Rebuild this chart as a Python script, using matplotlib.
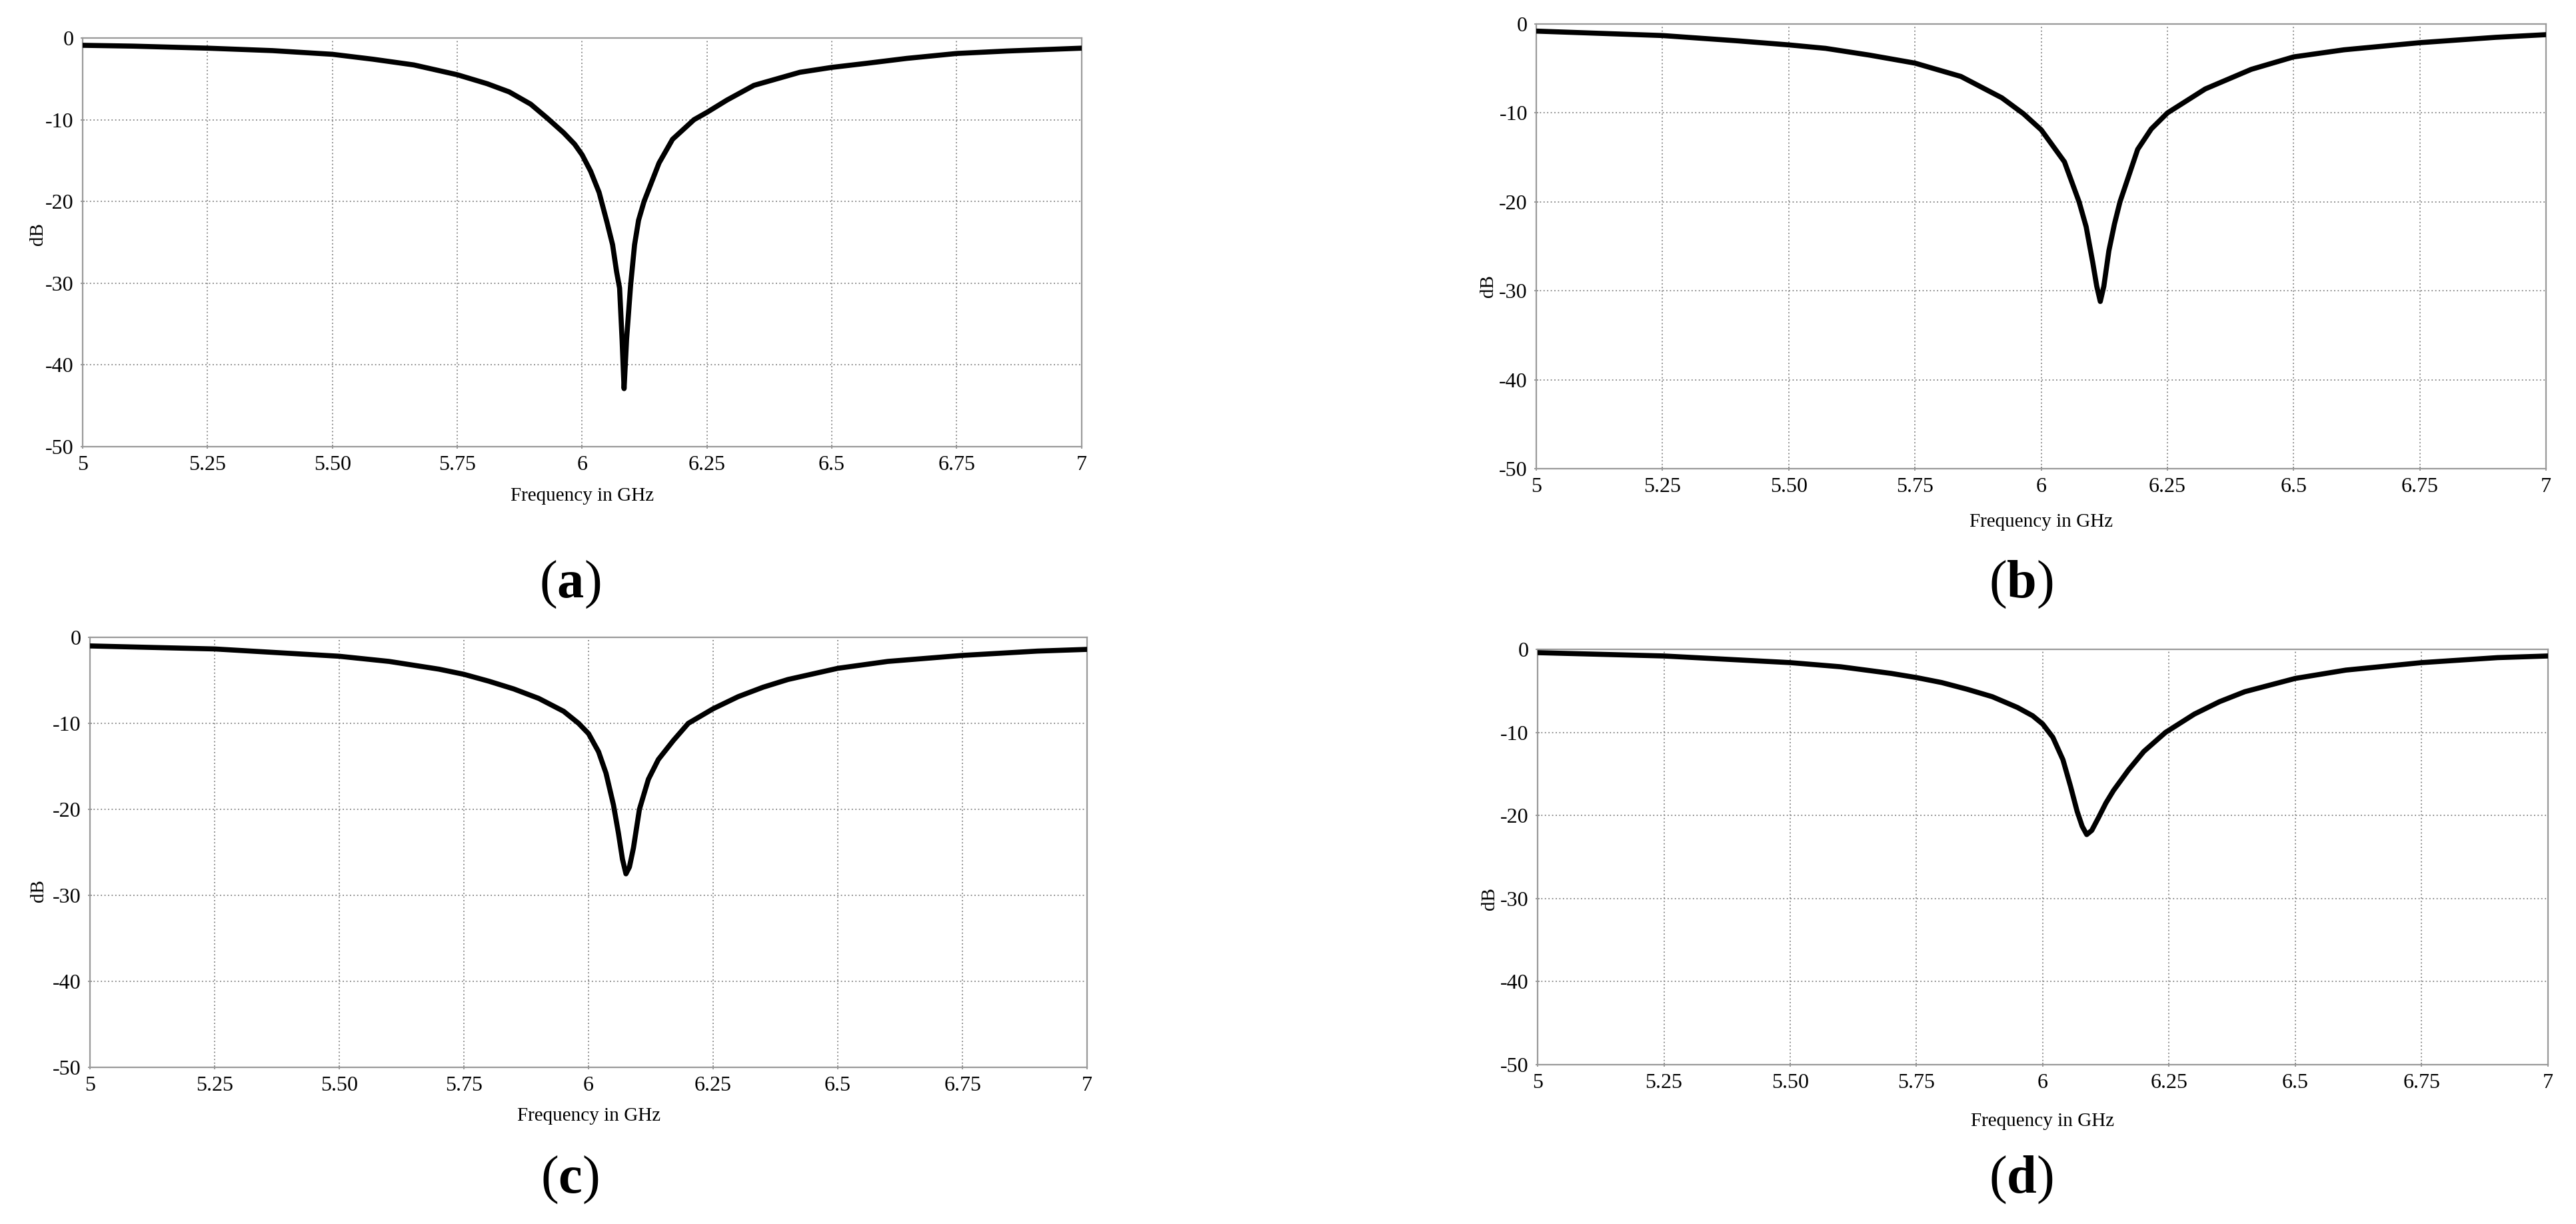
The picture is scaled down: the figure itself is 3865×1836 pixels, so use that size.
import matplotlib
matplotlib.use("Agg")
import matplotlib.pyplot as plt

plt.rcParams['font.family'] = ['Liberation Serif', 'DejaVu Serif']
plt.rcParams['axes.unicode_minus'] = False
plt.rcParams['mathtext.fontset'] = 'custom'
plt.rcParams['mathtext.bf'] = 'Liberation Serif:bold'

# reflection coefficient (dB)
freq_a = [5.0, 5.1, 5.25, 5.38, 5.5, 5.581, 5.663, 5.75, 5.81, 5.854, 5.897, 5.93,
          5.963, 5.985, 6.0, 6.017, 6.034, 6.05, 6.061, 6.069, 6.075, 6.08, 6.084,
          6.089, 6.097, 6.105, 6.113, 6.124, 6.154, 6.181, 6.224, 6.25, 6.29, 6.344,
          6.436, 6.5, 6.57, 6.65, 6.75, 6.85, 7.0]
s11_a = [-0.9, -1.0, -1.25, -1.55, -2.0, -2.6, -3.3, -4.5, -5.6, -6.6, -8.1, -9.8,
         -11.6, -13.0, -14.3, -16.3, -18.9, -22.6, -25.3, -28.6, -30.6, -36.9, -42.9,
         -36.9, -30.3, -25.3, -22.3, -20.0, -15.3, -12.4, -10.0, -9.1, -7.6, -5.8,
         -4.2, -3.6, -3.1, -2.5, -1.9, -1.6, -1.25]

freq_b = [5.0, 5.25, 5.4, 5.5, 5.573, 5.66, 5.75, 5.841, 5.922, 5.965, 6.0, 6.046,
          6.075, 6.089, 6.102, 6.11, 6.117, 6.124, 6.134, 6.145, 6.156, 6.191, 6.218,
          6.25, 6.325, 6.416, 6.5, 6.6, 6.75, 6.9, 7.0]
s11_b = [-0.8, -1.3, -1.9, -2.35, -2.74, -3.5, -4.4, -5.9, -8.3, -10.1, -11.9, -15.5,
         -20.0, -22.8, -26.8, -29.5, -31.2, -29.5, -25.5, -22.5, -20.0, -14.1, -11.8,
         -10.0, -7.3, -5.1, -3.7, -2.9, -2.1, -1.5, -1.2]

freq_c = [5.0, 5.25, 5.5, 5.6, 5.7, 5.75, 5.8, 5.85, 5.9, 5.95, 5.98, 6.0, 6.02,
          6.035, 6.05, 6.06, 6.068, 6.075, 6.082, 6.09, 6.102, 6.12, 6.14, 6.17, 6.2,
          6.25, 6.3, 6.35, 6.4, 6.5, 6.6, 6.75, 6.9, 7.0]
s11_c = [-1.0, -1.35, -2.2, -2.8, -3.7, -4.3, -5.1, -6.0, -7.1, -8.6, -10.0, -11.2,
         -13.3, -15.8, -19.5, -22.8, -25.8, -27.5, -26.7, -24.5, -20.0, -16.5, -14.2,
         -12.0, -10.0, -8.3, -6.9, -5.8, -4.9, -3.6, -2.8, -2.1, -1.6, -1.4]

freq_d = [5.0, 5.25, 5.5, 5.6, 5.7, 5.75, 5.8, 5.85, 5.9, 5.95, 5.98, 6.0, 6.02,
          6.04, 6.055, 6.068, 6.078, 6.087, 6.097, 6.11, 6.125, 6.14, 6.17, 6.2,
          6.243, 6.3, 6.35, 6.4, 6.5, 6.6, 6.75, 6.9, 7.0]
s11_d = [-0.4, -0.8, -1.6, -2.1, -2.9, -3.4, -4.0, -4.8, -5.7, -7.0, -8.0, -9.0,
         -10.6, -13.3, -16.5, -19.5, -21.3, -22.3, -21.8, -20.3, -18.5, -17.0, -14.5,
         -12.3, -10.0, -7.8, -6.3, -5.1, -3.5, -2.5, -1.6, -1.0, -0.8]

x_ticks = [5.0, 5.25, 5.5, 5.75, 6.0, 6.25, 6.5, 6.75, 7.0]
x_ticklabels = ['5', '5.25', '5.50', '5.75', '6', '6.25', '6.5', '6.75', '7']
y_ticks = [0, -10, -20, -30, -40, -50]
y_ticklabels = ['0', '-10', '-20', '-30', '-40', '-50']

panels = [
    # data, axes rect, xlabel y, ylabel (x, y), letter, letter pos
    (freq_a, s11_a, [0.03208, 0.6351, 0.3878, 0.3339], -0.10, (-0.036, 0.52), 'a', (0.2212, 0.5223)),
    (freq_b, s11_b, [0.5964, 0.6171, 0.3920, 0.3633], -0.10, (-0.039, 0.41), 'b', (0.7845, 0.5223)),
    (freq_c, s11_c, [0.03493, 0.1280, 0.3871, 0.3513], -0.093, (-0.043, 0.41), 'c', (0.2212, 0.0359)),
    (freq_d, s11_d, [0.5969, 0.1302, 0.3922, 0.3393], -0.115, (-0.039, 0.40), 'd', (0.7845, 0.0359)),
]

fig = plt.figure(figsize=(38.65, 18.36), dpi=100)

for freq, s11, rect, xl_y, yl_pos, letter, lpos in panels:
    ax = fig.add_axes(rect)
    ax.plot(freq, s11, color='black', lw=5.5, solid_joinstyle='round',
            solid_capstyle='round', zorder=3)
    ax.set_xlim(5, 7)
    ax.set_ylim(-50, 0)
    ax.set_xticks(x_ticks)
    ax.set_xticklabels(x_ticklabels)
    ax.set_yticks(y_ticks)
    ax.set_yticklabels(y_ticklabels)
    ax.grid(True, color='#808080', linestyle=(0, (1, 2)), linewidth=1.3)
    for sp in ax.spines.values():
        sp.set_color('#999999')
        sp.set_linewidth(1.6)
    ax.tick_params(direction='inout', length=5, width=1.2, color='#888888',
                   labelsize=23, pad=7)
    ax.set_xlabel('Frequency in GHz', fontsize=21)
    ax.xaxis.set_label_coords(0.5, xl_y)
    ax.set_ylabel('dB', fontsize=21)
    ax.yaxis.set_label_coords(*yl_pos)
    fig.text(lpos[0], lpos[1], '($\\mathbf{' + letter + '}$)', fontsize=58,
             ha='center', va='center')

fig.savefig('out.png', dpi=100)
